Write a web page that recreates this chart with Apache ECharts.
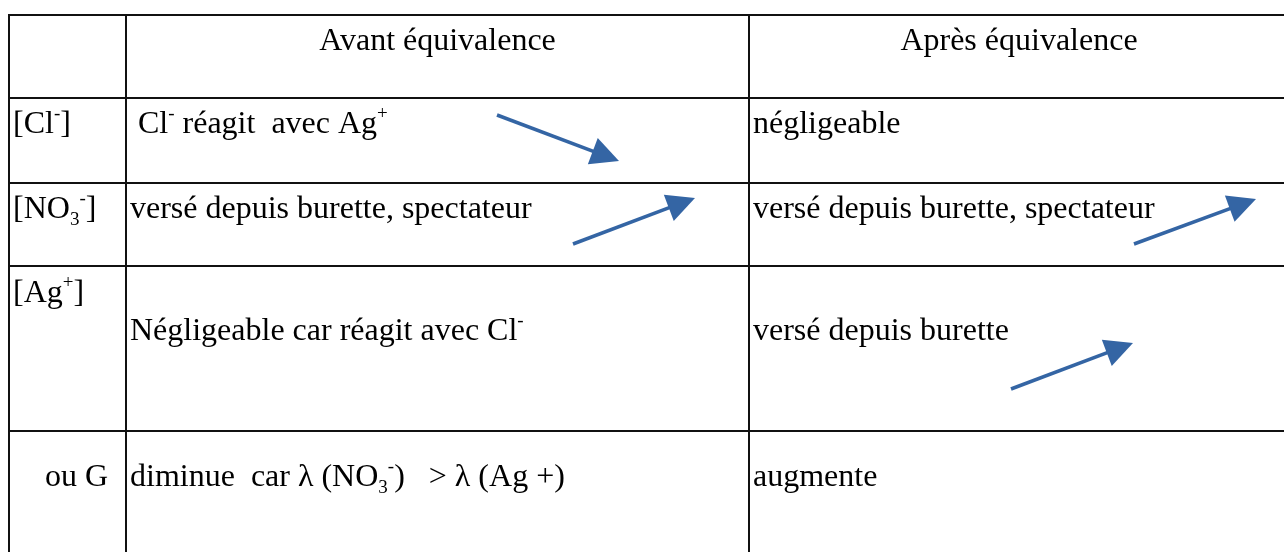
<!DOCTYPE html>
<html>
<head>
<meta charset="utf-8">
<script src="https://cdn.jsdelivr.net/npm/echarts@6/dist/echarts.min.js"></script>
<style>
  html, body { margin: 0; background: #fff; }
  #main { width: 1284px; height: 552px; }
</style>
</head>
<body>
<div id="main"></div>
<script>
// table grid, in page pixels (the axes map 1:1 onto the canvas)
var colEdges = [9, 126, 749, 1289];
var rowEdges = [15, 98, 183, 266, 431, 620];
var rowBaselines = [49, 132, 217, 301, 485];
var lineStep = 38;

// cell contents: [row, col, line in cell, text]
var cellTexts = [
  [0, 1, 0, 'Avant équivalence'],
  [0, 2, 0, 'Après équivalence'],
  [1, 0, 0, '[Cl{sup|-}]'],
  [1, 1, 0, ' Cl{sup|-} réagit  avec Ag{sup|+}'],
  [1, 2, 0, 'négligeable'],
  [2, 0, 0, '[NO{sub|3}{sup|-}]'],
  [2, 1, 0, 'versé depuis burette, spectateur'],
  [2, 2, 0, 'versé depuis burette, spectateur'],
  [3, 0, 0, '[Ag{sup|+}]'],
  [3, 1, 1, 'Négligeable car réagit avec Cl{sup|-}'],
  [3, 2, 1, 'versé depuis burette'],
  [4, 0, 0, '    ou G'],
  [4, 1, 0, 'diminue  car λ (NO{sub|3}{sup|-})   > λ (Ag +)'],
  [4, 2, 0, 'augmente']
];
var centeredRows = [0];

// arrows: start x, start y, tip x, tip y
var arrowStartX = [497, 573, 1134, 1011];
var arrowStartY = [115, 244, 244, 389];
var arrowEndX = [619, 695, 1256, 1133];
var arrowEndY = [161, 198, 199, 343];

var headLen = 28;

var chartDom = document.getElementById('main');
var myChart = echarts.init(chartDom, null, { renderer: 'canvas' });

var serif = '"Liberation Serif", "Times New Roman", serif';
var gridColor = '#111';

function hLine(params, api) {
  var y = rowEdges[params.dataIndex];
  var p0 = api.coord([colEdges[0], y]);
  var p1 = api.coord([colEdges[colEdges.length - 1], y]);
  return {
    type: 'line',
    shape: { x1: p0[0] - 1, y1: p0[1], x2: p1[0], y2: p1[1] },
    style: { stroke: gridColor, lineWidth: 2 }
  };
}

function vLine(params, api) {
  var x = colEdges[params.dataIndex];
  var p0 = api.coord([x, rowEdges[0]]);
  var p1 = api.coord([x, rowEdges[rowEdges.length - 1]]);
  return {
    type: 'line',
    shape: { x1: p0[0], y1: p0[1] - 1, x2: p1[0], y2: p1[1] },
    style: { stroke: gridColor, lineWidth: 2 }
  };
}

function cellText(params, api) {
  var t = cellTexts[params.dataIndex];
  var centered = centeredRows.indexOf(t[0]) >= 0;
  var x = centered ? (colEdges[t[1]] + colEdges[t[1] + 1]) / 2 : colEdges[t[1]] + 4;
  var y = rowBaselines[t[0]] + t[2] * lineStep;
  var p = api.coord([x, y]);
  return {
    type: 'text',
    x: p[0],
    y: p[1] - 27,
    style: {
      text: t[3],
      fill: '#000',
      fontFamily: serif,
      fontSize: 32,
      lineHeight: 40,
      align: centered ? 'center' : 'left',
      verticalAlign: 'top',
      rich: {
        sup: { fontFamily: serif, fontSize: 19, lineHeight: 18, verticalAlign: 'top', fill: '#000' },
        sub: { fontFamily: serif, fontSize: 19, lineHeight: 24, verticalAlign: 'bottom', fill: '#000' }
      }
    }
  };
}

// the triangle head is centred on the line end, so pull the end back by half its length
function arrowData() {
  return arrowStartX.map(function (x0, i) {
    var y0 = arrowStartY[i], x1 = arrowEndX[i], y1 = arrowEndY[i];
    var dx = x1 - x0, dy = y1 - y0;
    var len = Math.sqrt(dx * dx + dy * dy);
    var k = (len - headLen / 2) / len;
    return { coords: [[x0, y0], [x0 + dx * k, y0 + dy * k]] };
  });
}

var option = {
  animation: false,
  backgroundColor: '#fff',
  grid: { left: 0, right: 0, top: 0, bottom: 0 },
  xAxis: { type: 'value', min: 0, max: 1284, show: false },
  yAxis: { type: 'value', min: 0, max: 552, inverse: true, show: false },
  series: [
    {
      type: 'custom',
      renderItem: hLine,
      clip: true,
      data: rowEdges.map(function (y) { return [colEdges[0], y]; }),
      z: 1
    },
    {
      type: 'custom',
      renderItem: vLine,
      clip: true,
      data: colEdges.map(function (x) { return [x, rowEdges[0]]; }),
      z: 1
    },
    {
      type: 'custom',
      renderItem: cellText,
      data: cellTexts.map(function (t) { return [colEdges[t[1]], rowBaselines[t[0]]]; }),
      z: 2
    },
    {
      type: 'lines',
      coordinateSystem: 'cartesian2d',
      symbol: ['none', 'triangle'],
      symbolSize: [22, headLen],
      lineStyle: { color: '#3465a4', width: 3.5, opacity: 1 },
      itemStyle: { color: '#3465a4' },
      data: arrowData(),
      z: 3
    }
  ]
};

option && myChart.setOption(option);
</script>
</body>
</html>
